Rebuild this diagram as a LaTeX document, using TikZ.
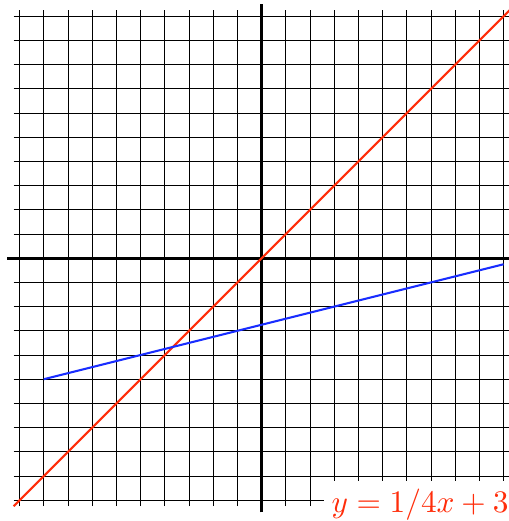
\documentclass[tikz,border=0pt]{standalone}
\begin{document}
\begin{tikzpicture}[x=7.5pt,y=7.5pt,
  gridline/.style={line width=0.3pt,black,step=7.5pt},
  axisline/.style={line width=0.9pt,black},
  redline/.style={line width=0.65pt,color=myred},
  blueline/.style={line width=0.65pt,color=myblue},
  eqlabel/.style={fill=white,text=myred,inner sep=2.5pt,anchor=base east,scale=0.97}]
\definecolor{myred}{RGB}{255,45,10}
\definecolor{myblue}{RGB}{25,45,255}
\useasboundingbox (-10.81,-10.86) rectangle (10.22,10.67);
\draw[gridline] (-10.25,-10.25) grid (10.25,10.25);
\coordinate (xl) at (-10.5,0);
\coordinate (xr) at (10.5,0);
\coordinate (yb) at (0,-10.5);
\coordinate (yt) at (0,10.5);
\draw[axisline] (xl) -- (xr);
\draw[axisline] (yb) -- (yt);
\coordinate (r1) at (-10.25,-10.25);
\coordinate (r2) at (10.25,10.25);
\draw[redline] (r1) -- (r2);
\coordinate (b1) at (-9,-5);
\coordinate (b2) at (10,-0.25);
\draw[blueline] (b1) -- (b2);
\node[eqlabel] (eq) at (10.55,-10.51) {$y = 1/4x + 3$};
\end{tikzpicture}
\end{document}
